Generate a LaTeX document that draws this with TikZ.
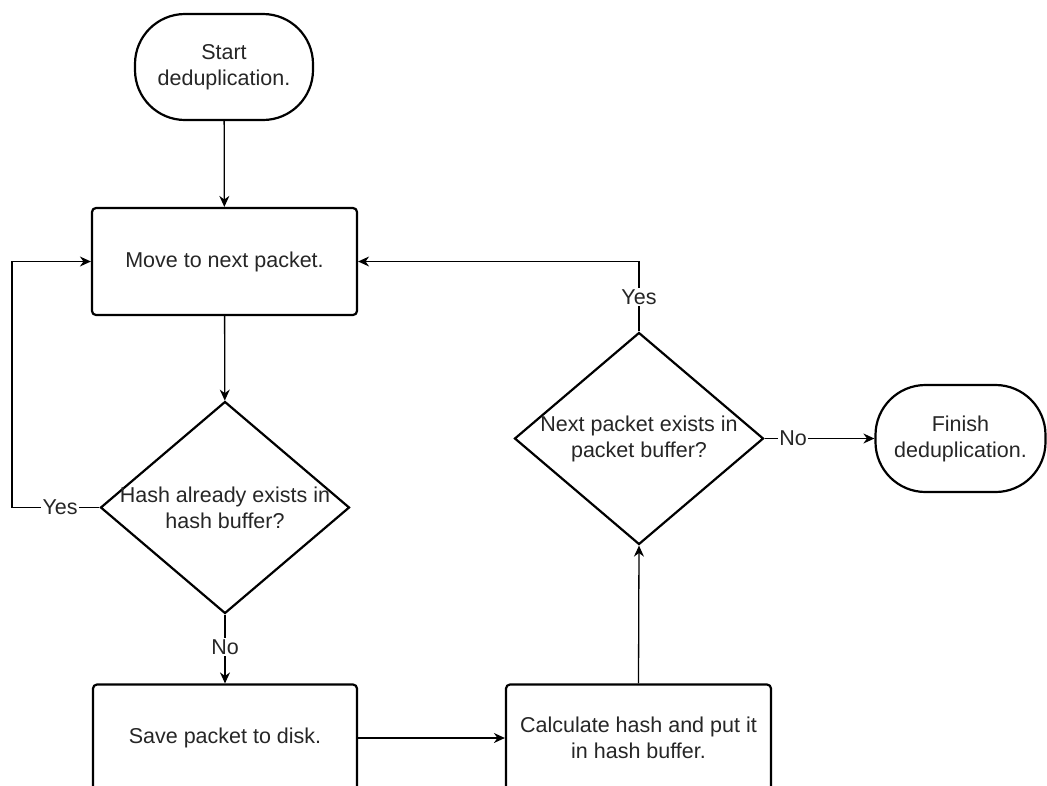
\documentclass[tikz,border=0pt]{standalone}
\usepackage{fontspec}
\setmainfont{Liberation Sans}
\usetikzlibrary{shapes.geometric,arrows.meta}

\begin{document}
\begin{tikzpicture}[x=1pt,y=-1pt,
  every node/.style={font=\fontsize{21.5}{26}\selectfont, text=black!85},
  shapeline/.style={draw=black, line width=2.2pt, fill=white},
  terminal/.style={shapeline, rectangle, rounded corners=50pt, align=center},
  process/.style={shapeline, rectangle, rounded corners=4pt, align=center,
                  minimum width=265pt, minimum height=107pt},
  decision/.style={shapeline, diamond, inner sep=0pt,
                   minimum width=249pt, minimum height=212pt},
  dtext/.style={align=center},
  flow/.style={draw=black, line width=1.3pt, -{Stealth[length=11pt,width=10pt]}},
  plain/.style={draw=black, line width=1.3pt},
  lbl/.style={fill=white, inner sep=1.5pt}
]
\useasboundingbox (0,0) rectangle (1047,785);

% nodes
\node[terminal, minimum width=178pt, minimum height=106pt] (start) at (224,67)
  {Start\\deduplication.};
\node[process] (move) at (224.5,261.5) {Move to next packet.};
\node[decision] (d1) at (225,507.5) {};
\node[dtext] (d1t) at (d1.center) {Hash already exists in\\hash buffer?};
\node[process, minimum width=264pt] (save) at (225,738) {Save packet to disk.};
\node[process] (calc) at (638.5,738) {Calculate hash and put it\\in hash buffer.};
\node[decision] (d2) at (639,438.5) {};
\node[dtext] (d2t) at (d2.center) {Next packet exists in\\packet buffer?};
\node[terminal, minimum width=170pt, minimum height=107pt] (finish) at (960.5,438.5)
  {Finish\\deduplication.};

\coordinate (lback) at (12,507.5);

% connectors
\draw[flow] (start) -- (move);
\draw[flow] (move) -- (d1);
\draw[flow] (d1.west) -- node[lbl, pos=0.45] {Yes} (lback) |- (move.west);
\draw[flow] (d1.south) -- node[lbl, pos=0.47] {No} (save.north);
\draw[flow] (save.east) -- (calc.west);
\draw[flow] (calc.north) -- (d2.south);
\draw[flow] (d2.north) -- node[lbl, pos=0.49] {Yes} (d2.north |- move.east) -- (move.east);
\draw[flow] (d2.east) -- node[lbl, pos=0.26] {No} (finish.west);
\end{tikzpicture}
\end{document}
